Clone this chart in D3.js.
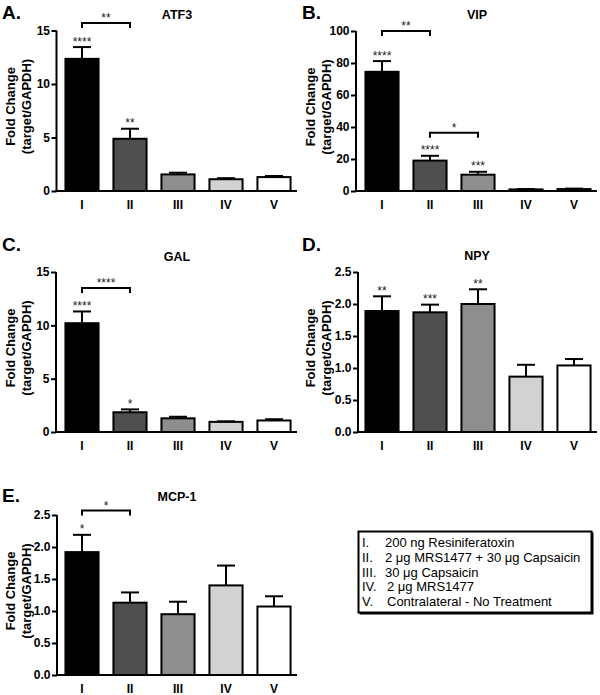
<!DOCTYPE html>
<html><head><meta charset="utf-8">
<script src="https://cdn.jsdelivr.net/npm/d3@7"></script>
<style>
html,body{margin:0;padding:0;background:#fff;}
svg{display:block;font-family:"Liberation Sans",Arial,Helvetica,sans-serif;}
</style></head>
<body>
<svg id="chart" width="600" height="695"></svg>
<script>
// ---------- data ----------
const categories = ["I", "II", "III", "IV", "V"];
const fills = ["#000000", "#4f4f4f", "#8e8e8e", "#d2d2d2", "#ffffff"];

const atf3Mean = [12.35, 4.88, 1.55, 1.10, 1.30];
const atf3Sem  = [1.10, 0.94, 0.16, 0.10, 0.10];
const atf3Stars = ["****", "**", "", "", ""];
const atf3Ticks = [0, 5, 10, 15];
const atf3Brackets = [{from: 0, to: 1, y: 15.7, label: "**"}];

const vipMean = [74.5, 19.0, 10.2, 1.0, 1.2];
const vipSem  = [6.7, 3.0, 1.8, 0.2, 0.3];
const vipStars = ["****", "****", "***", "", ""];
const vipTicks = [0, 20, 40, 60, 80, 100];
const vipBrackets = [{from: 0, to: 1, y: 100, label: "**"}, {from: 1, to: 2, y: 36.4, label: "*"}];

const galMean = [10.2, 1.85, 1.28, 0.95, 1.08];
const galSem  = [1.10, 0.27, 0.15, 0.05, 0.12];
const galStars = ["****", "*", "", "", ""];
const galTicks = [0, 5, 10, 15];
const galBrackets = [{from: 0, to: 1, y: 13.5, label: "****"}];

const npyMean = [1.89, 1.87, 2.00, 0.865, 1.04];
const npySem  = [0.23, 0.12, 0.23, 0.185, 0.10];
const npyStars = ["**", "***", "**", "", ""];
const npyTicks = [0, 0.5, 1.0, 1.5, 2.0, 2.5];
const npyBrackets = [];

const mcpMean = [1.92, 1.13, 0.95, 1.40, 1.07];
const mcpSem  = [0.27, 0.16, 0.195, 0.31, 0.16];
const mcpStars = ["*", "", "", "", ""];
const mcpTicks = [0, 0.5, 1.0, 1.5, 2.0, 2.5];
const mcpBrackets = [{from: 0, to: 1, y: 2.57, label: "*"}];

const legendItems = [
  ["I.", "200 ng Resiniferatoxin"],
  ["II.", "2 μg MRS1477 + 30 μg Capsaicin"],
  ["III.", "30 μg Capsaicin"],
  ["IV.", "2 μg MRS1477"],
  ["V.", "Contralateral - No Treatment"]
];

// ---------- layout ----------
const panels = [
  {letter: "A.", title: "ATF3",  mean: atf3Mean, sem: atf3Sem, stars: atf3Stars, ticks: atf3Ticks, fmt: d3.format("d"),   brackets: atf3Brackets, x0: 0,   axisX: 56.5, top: 30.5, bottom: 191, letterY: 18.5, titleY: 19},
  {letter: "B.", title: "VIP",   mean: vipMean,  sem: vipSem,  stars: vipStars,  ticks: vipTicks,  fmt: d3.format("d"),   brackets: vipBrackets,  x0: 300, axisX: 56,   top: 31,   bottom: 191, letterY: 18.5, titleY: 19},
  {letter: "C.", title: "GAL",   mean: galMean,  sem: galSem,  stars: galStars,  ticks: galTicks,  fmt: d3.format("d"),   brackets: galBrackets,  x0: 0,   axisX: 56,   top: 272,  bottom: 432, letterY: 250.5, titleY: 260.5},
  {letter: "D.", title: "NPY",   mean: npyMean,  sem: npySem,  stars: npyStars,  ticks: npyTicks,  fmt: d3.format(".1f"), brackets: npyBrackets,  x0: 300, axisX: 58,   top: 272,  bottom: 432, letterY: 250.5, titleY: 259.5},
  {letter: "E.", title: "MCP-1", mean: mcpMean,  sem: mcpSem,  stars: mcpStars,  ticks: mcpTicks,  fmt: d3.format(".1f"), brackets: mcpBrackets,  x0: 0,   axisX: 57,   top: 515,  bottom: 675, letterY: 501.5, titleY: 500.5}
];

const svg = d3.select("#chart");

panels.forEach(p => {
  const g = svg.append("g").attr("transform", `translate(${p.x0},0)`);
  const axisX = p.axisX;
  const x = d3.scaleBand().domain(categories).range([58, 298]).paddingInner(0.31).paddingOuter(0.155);
  const yMax = p.ticks[p.ticks.length - 1];
  const y = d3.scaleLinear().domain([0, yMax]).range([p.bottom, p.top]);

  // panel letter
  g.append("text").attr("x", 2).attr("y", p.letterY).attr("font-size", 19).attr("font-weight", "bold").text(p.letter);
  // title
  g.append("text").attr("x", 177).attr("y", p.titleY).attr("text-anchor", "middle").attr("font-size", 12.5).attr("font-weight", "bold").text(p.title);

  // y label
  const cy = p.top + 76;
  g.append("text").attr("transform", `translate(15,${cy}) rotate(-90)`).attr("text-anchor", "middle")
    .attr("font-size", 13).attr("font-weight", "bold").text("Fold Change");
  g.append("text").attr("transform", `translate(31,${cy}) rotate(-90)`).attr("text-anchor", "middle")
    .attr("font-size", 13).attr("font-weight", "bold").text("(target/GAPDH)");

  // bars
  g.selectAll("rect.bar").data(categories).join("rect").attr("class", "bar")
    .attr("x", d => x(d)).attr("width", x.bandwidth())
    .attr("y", (d, i) => y(p.mean[i])).attr("height", (d, i) => y(0) - y(p.mean[i]))
    .attr("fill", (d, i) => fills[i]).attr("stroke", "#000").attr("stroke-width", 2);

  // error bars
  const capW = 9;
  categories.forEach((d, i) => {
    const cx = x(d) + x.bandwidth() / 2;
    const top = y(p.mean[i] + p.sem[i]);
    g.append("line").attr("x1", cx).attr("x2", cx).attr("y1", y(p.mean[i])).attr("y2", top).attr("stroke", "#000").attr("stroke-width", 2);
    g.append("line").attr("x1", cx - capW).attr("x2", cx + capW).attr("y1", top).attr("y2", top).attr("stroke", "#000").attr("stroke-width", 2);
    if (p.stars[i]) {
      g.append("text").attr("x", cx).attr("y", top - 1.5).attr("text-anchor", "middle")
        .attr("font-size", 12).attr("fill", "#222").text(p.stars[i]);
    }
  });

  // brackets
  p.brackets.forEach(b => {
    const x1 = x(categories[b.from]) + x.bandwidth() / 2;
    const x2 = x(categories[b.to]) + x.bandwidth() / 2;
    const by = y(b.y);
    g.append("path").attr("d", `M${x1},${by + 5}V${by}H${x2}V${by + 5}`)
      .attr("fill", "none").attr("stroke", "#000").attr("stroke-width", 2);
    g.append("text").attr("x", (x1 + x2) / 2).attr("y", by - 1).attr("text-anchor", "middle")
      .attr("font-size", 12).attr("fill", "#222").text(b.label);
  });

  // y axis
  const yAxis = d3.axisLeft(y).tickValues(p.ticks).tickFormat(p.fmt).tickSize(5).tickPadding(1.5);
  const ya = g.append("g").attr("transform", `translate(${axisX},0)`).call(yAxis);
  ya.select(".domain").attr("d", `M0,${p.top}V${p.bottom}`).attr("stroke-width", 2);
  ya.selectAll(".tick line").attr("stroke-width", 2);
  ya.selectAll(".tick text").attr("font-size", 12).attr("font-weight", "bold").attr("fill", "#000")
    .attr("font-family", '"Liberation Sans",Arial,sans-serif');

  // x axis
  const xAxis = d3.axisBottom(x).tickSize(0).tickPadding(9);
  const xa = g.append("g").attr("transform", `translate(0,${p.bottom})`).call(xAxis);
  xa.select(".domain").attr("d", `M${axisX - 1},0H297`).attr("stroke-width", 2);
  xa.selectAll(".tick text").attr("font-size", 12).attr("font-weight", "bold").attr("fill", "#000")
    .attr("font-family", '"Liberation Sans",Arial,sans-serif');
});

// legend
const lg = svg.append("g");
lg.append("rect").attr("x", 359.5).attr("y", 532.5).attr("width", 234).attr("height", 82).attr("fill", "#000");
lg.append("rect").attr("x", 358.5).attr("y", 531.5).attr("width", 233).attr("height", 81)
  .attr("fill", "#fff").attr("stroke", "#000").attr("stroke-width", 2);
legendItems.forEach((it, i) => {
  const yy = 547 + i * 14.75;
  lg.append("text").attr("x", 362).attr("y", yy).attr("font-size", 13).text(it[0]);
  lg.append("text").attr("x", i >= 3 ? 387 : 385).attr("y", yy).attr("font-size", 13).text(it[1]);
});
</script>
</body></html>
